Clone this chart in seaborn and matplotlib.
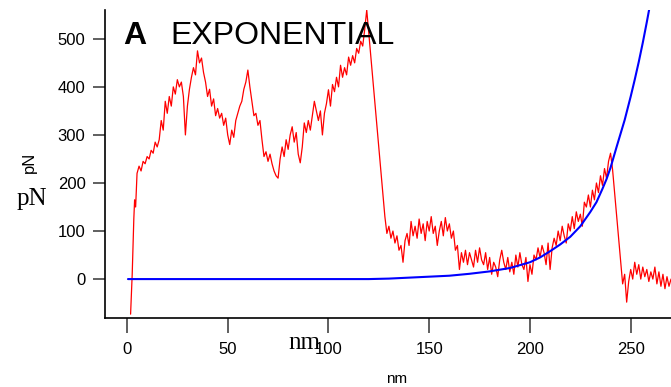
import numpy as np
import pandas as pd
import matplotlib
matplotlib.use('Agg')
import matplotlib.pyplot as plt
import seaborn as sns

# red trace: initial steep rise (nm, pN)
rise_nm = [1.8, 2.2, 2.6, 3.0, 3.4, 3.8, 4.3]
rise_pN = [-73, -30, 10, 70, 125, 165, 150]

# red trace, first stretch, 1 nm steps from 5 to 119 nm
seg1_start = 5
seg1_pN = [220, 235, 225, 245, 240, 255, 250, 268, 262, 285,
           275, 290, 330, 310, 370, 345, 380, 360, 400, 385,
           415, 400, 410, 380, 300, 360, 395, 420, 440, 425,
           475, 450, 460, 430, 410, 380, 395, 360, 375, 340,
           355, 335, 345, 320, 335, 300, 280, 310, 295, 330,
           345, 360, 370, 395, 410, 435, 400, 370, 340, 345,
           320, 330, 290, 255, 265, 245, 260, 240, 225, 215,
           210, 250, 275, 255, 290, 270, 300, 317, 285, 305,
           260, 242, 275, 325, 305, 330, 310, 340, 370, 350,
           330, 350, 300, 345, 365, 394, 360, 405, 390, 420,
           400, 445, 420, 440, 425, 462, 445, 465, 450, 480,
           470, 495, 485, 520, 560]

# red trace after the first rupture, 128 to 241 nm
seg2_start = 128
seg2_pN = [130, 95, 110, 85, 100, 75, 90, 60, 70, 35,
           80, 95, 70, 120, 90, 110, 85, 125, 95, 115,
           80, 120, 100, 130, 95, 110, 70, 100, 120, 90,
           128, 100, 115, 85, 100, 60, 70, 20, 55, 35,
           60, 30, 55, 40, 25, 60, 35, 65, 40, 30,
           55, 20, 45, 10, 35, 25, 5, 40, 60, 35,
           20, 45, 15, 35, 10, 50, 25, 55, 30, 20,
           45, -5, 30, 10, 50, 40, 65, 45, 70, 55,
           30, 75, 20, 65, 85, 70, 100, 80, 110, 90,
           75, 115, 100, 130, 105, 140, 120, 135, 110, 160,
           150, 175, 150, 185, 165, 200, 180, 215, 195, 230,
           210, 245, 262, 228]

# red trace after the second rupture, 246 to 270 nm
seg3_start = 246
seg3_pN = [-10, 10, -48, -5, 20, 0, 35, 10, 30, 0,
           25, 5, 20, -5, 15, 0, 25, -10, 15, -15,
           10, -20, 5, -15, 0]

# blue exponential fit
fit_nm = [0.5, 20, 40, 60, 80, 100, 120, 130, 140, 150, 160, 170, 180,
          190, 200, 205, 210, 215, 220, 225, 230, 233, 236, 238, 240,
          243, 247, 250, 252, 254, 256, 258, 260]
fit_pN = [0, 0, 0, 0, 0, 0, 0, 1, 3, 5, 7, 11, 16,
          23, 35, 45, 58, 72, 88, 110, 140, 160, 188, 208, 232,
          275, 331, 380, 415, 452, 492, 535, 580]

xticks = [0, 50, 100, 150, 200, 250]
yticks = [0, 100, 200, 300, 400, 500]

red_nm = (rise_nm
          + list(range(seg1_start, seg1_start + len(seg1_pN)))
          + list(range(seg2_start, seg2_start + len(seg2_pN)))
          + list(range(seg3_start, seg3_start + len(seg3_pN))))
red_pN = rise_pN + seg1_pN + seg2_pN + seg3_pN
trace = pd.DataFrame({'nm': red_nm, 'pN': red_pN})
fit = pd.DataFrame({'nm': fit_nm, 'pN': fit_pN})

sns.set_style('ticks')
plt.rcParams['font.family'] = ['Liberation Sans', 'DejaVu Sans']
plt.rcParams['text.color'] = 'black'
plt.rcParams['xtick.labelcolor'] = 'black'
plt.rcParams['ytick.labelcolor'] = 'black'

fig = plt.figure(figsize=(6.71, 3.87), dpi=100)
ax = fig.add_axes([105 / 671, 69 / 387, 566 / 671, 308 / 387])

sns.lineplot(data=trace, x='nm', y='pN', ax=ax, color='#ff0000',
             linewidth=0.9, estimator=None, sort=False)
sns.lineplot(data=fit, x='nm', y='pN', ax=ax, color='#0000ff',
             linewidth=1.5, estimator=None, sort=False)

ax.set_xlim(-10.9, 270)
ax.set_ylim(-81, 560)
ax.set_xticks(xticks)
ax.set_yticks(yticks)
ax.set_xlabel('')
ax.set_ylabel('')
sns.despine(ax=ax)
for s in ['left', 'bottom']:
    ax.spines[s].set_linewidth(1.2)
    ax.spines[s].set_color('black')
ax.tick_params(axis='x', length=11, width=1.2, color='#444444',
               labelsize=12, pad=6, labelcolor='black')
ax.tick_params(axis='y', length=9, width=1.2, color='#444444',
               labelsize=12, pad=5, labelcolor='black')

# titles and labels
fig.text(123 / 671, 1 - 44 / 387, 'A', fontsize=23, fontweight='bold',
         va='baseline', ha='left', color='black')
fig.text(170 / 671, 1 - 44 / 387, 'EXPONENTIAL', fontsize=23,
         va='baseline', ha='left', color='black')
fig.text(29 / 671, 1 - 162 / 387, 'pN', fontsize=12, rotation=90,
         va='center', ha='center', color='black')
fig.text(17 / 671, 1 - 205 / 387, 'pN', fontsize=18,
         family='Liberation Serif', va='baseline', ha='left', color='black')
fig.text(288 / 671, 1 - 349 / 387, 'nm', fontsize=18,
         family='Liberation Serif', va='baseline', ha='left', color='black')
fig.text(386 / 671, 1 - 383 / 387, 'nm', fontsize=11,
         va='baseline', ha='left', color='black')

fig.savefig('out.png', dpi=100)
